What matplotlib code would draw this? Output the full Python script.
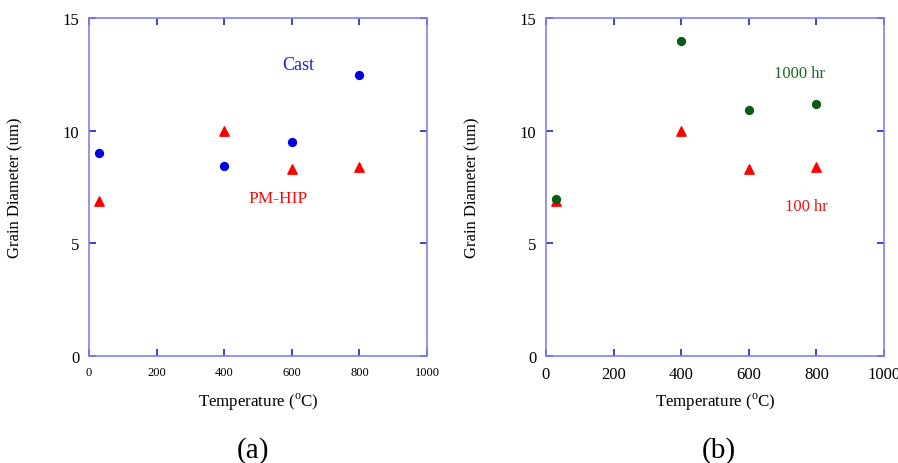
import matplotlib
matplotlib.use("Agg")
import matplotlib.pyplot as plt

plt.rcParams['font.family'] = ['Liberation Serif', 'DejaVu Serif']
plt.rcParams['mathtext.fontset'] = 'custom'
plt.rcParams['mathtext.rm'] = 'Liberation Serif'

temps = [30, 400, 600, 800]
cast = [9.0, 8.45, 9.5, 12.45]
pm_hip = [6.9, 10.0, 8.3, 8.4]
hr_1000 = [6.95, 14.0, 10.9, 11.2]
hr_100 = [6.9, 10.0, 8.3, 8.4]

xticks = [0, 200, 400, 600, 800, 1000]
yticks = [0, 5, 10, 15]

spine_col = '#8080f0'
tick_col = '#2020d0'

fig = plt.figure(figsize=(8.98, 4.64), dpi=100)
ax1 = fig.add_axes([0.0991, 0.2306, 0.3764, 0.7284])
ax2 = fig.add_axes([0.608, 0.2306, 0.3764, 0.7284])


def style(ax, xfs):
    ax.set_xlim(0, 1000)
    ax.set_ylim(0, 15)
    ax.set_xticks(xticks)
    ax.set_yticks(yticks)
    for s in ax.spines.values():
        s.set_color(spine_col)
        s.set_linewidth(1.2)
    ax.tick_params(direction='in', top=True, right=True, color=tick_col,
                   length=5, width=1.2)
    ax.tick_params(axis='x', labelsize=xfs, pad=7)
    ax.tick_params(axis='y', labelsize=12, pad=7)
    ax.set_xlabel('Temperature ($^{\\rm o}$C)', fontsize=12.2, va='center')
    ax.set_ylabel('Grain Diameter (um)', fontsize=12, va='center')
    ax.xaxis.set_label_coords(0.5, -0.133)
    ax.yaxis.set_label_coords(-0.218, 0.5)


ax1.scatter(temps, cast, marker='o', s=32, color='#0000dd', zorder=3)
ax1.scatter(temps, pm_hip, marker='^', s=45, color='#ff0000', zorder=3)
ax1.text(618, 12.95, 'Cast', color='#2020dd', fontsize=13, ha='center', va='center')
ax1.text(559, 7.0, 'PM-HIP', color='#ee1111', fontsize=12.5, ha='center', va='center')
style(ax1, 9)

ax2.scatter(temps, hr_100, marker='^', s=45, color='#ff0000', zorder=3)
ax2.scatter(temps, hr_1000, marker='o', s=32, color='#0a5c14', zorder=4)
ax2.text(749, 12.55, '1000 hr', color='#1a6a20', fontsize=12, ha='center', va='center')
ax2.text(771, 6.65, '100 hr', color='#ee1111', fontsize=12, ha='center', va='center')
style(ax2, 12)

fig.text(0.282, 0.03, '(a)', fontsize=21, ha='center', va='center')
fig.text(0.8, 0.03, '(b)', fontsize=21, ha='center', va='center')

fig.savefig('out.png', dpi=100)
